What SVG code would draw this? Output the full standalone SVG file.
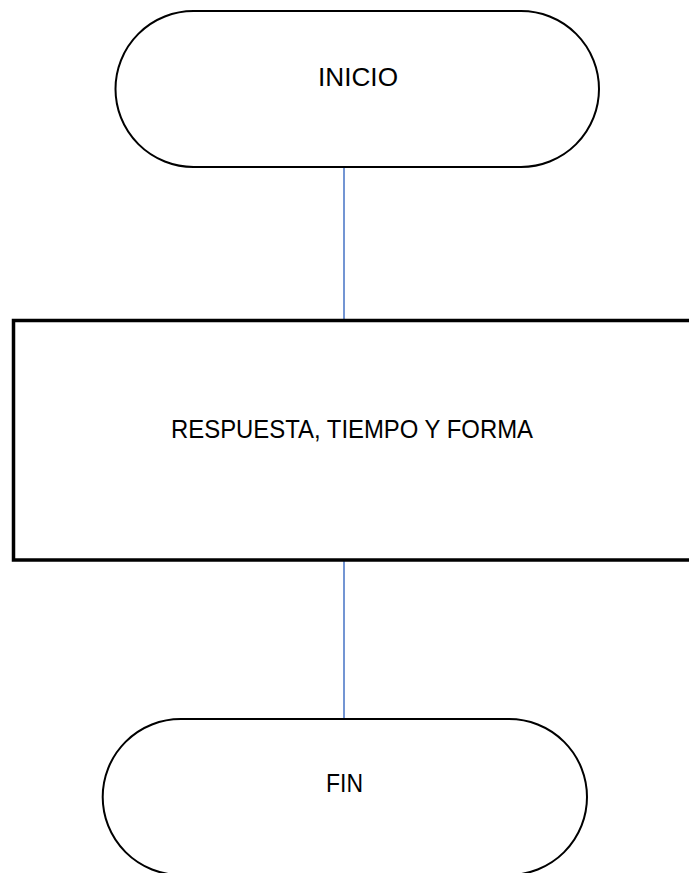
<svg xmlns="http://www.w3.org/2000/svg" width="689" height="873" viewBox="0 0 689 873">
<style>
.term{fill:#fff;stroke:#000;stroke-width:2}
.proc{fill:#fff;stroke:#000;stroke-width:3.5}
.conn{stroke:#4472C4;stroke-width:1.5;fill:none}
.lbl{font-family:"Liberation Sans",Arial,sans-serif;font-size:26px;fill:#000;text-anchor:middle}
</style>
<rect width="689" height="873" fill="#fff"/>
<g id="connectors">
<line class="conn" x1="344" y1="168" x2="344" y2="320"/>
<line class="conn" x1="344" y1="561" x2="344" y2="718"/>
</g>
<g id="inicio">
<path class="term" d="M193.5 11 H521 A78 78 0 0 1 521 167 H193.5 A78 78 0 0 1 193.5 11 Z"/>
<text class="lbl" x="358" y="86" textLength="80" lengthAdjust="spacingAndGlyphs">INICIO</text>
</g>
<g id="proceso">
<rect class="proc" x="13.5" y="320.5" width="700" height="239.5"/>
<text class="lbl" x="352" y="437.5" textLength="362" lengthAdjust="spacingAndGlyphs">RESPUESTA, TIEMPO Y FORMA</text>
</g>
<g id="fin">
<path class="term" d="M180.7 719 H509 A78 78 0 0 1 509 875 H180.7 A78 78 0 0 1 180.7 719 Z"/>
<text class="lbl" x="344.5" y="792" textLength="37" lengthAdjust="spacingAndGlyphs">FIN</text>
</g>
</svg>
